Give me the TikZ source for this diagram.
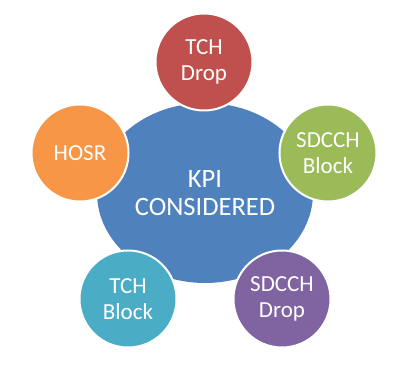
\documentclass[tikz,border=0pt]{standalone}
\usepackage{fontspec}
\setmainfont{Carlito}
\usetikzlibrary{shapes.geometric}
\definecolor{cblue}{HTML}{4F81BD}
\definecolor{cred}{HTML}{C0504D}
\definecolor{cgreen}{HTML}{9BBB59}
\definecolor{cpurple}{HTML}{8064A2}
\definecolor{caqua}{HTML}{4BACC6}
\definecolor{corange}{HTML}{F79646}
\tikzset{
  hub/.style={ellipse, fill=cblue, minimum width=216pt, minimum height=180pt, inner sep=0pt,
    text=white, align=center, font=\fontsize{26.5}{28}\selectfont},
  kpi/.style={circle, draw=white, line width=2pt, minimum size=97pt, inner sep=0pt,
    text=white, align=center, font=\fontsize{23}{26}\selectfont}
}
\begin{document}
\begin{tikzpicture}[x=1pt,y=1pt]
\useasboundingbox (0,0) rectangle (416,369);
\node[hub] (c) at (205,176) {KPI\\CONSIDERED};
\node[kpi, fill=cred] (td) at (204,307) {TCH\\Drop};
\node[kpi, fill=cgreen] (sb) at (328,216) {SDCCH\\Block};
\node[kpi, fill=cpurple] (sd) at (282,70) {SDCCH\\Drop};
\node[kpi, fill=caqua] (tb) at (128,70) {TCH\\Block};
\node[kpi, fill=corange] (ho) at (80,216) {HOSR};
\end{tikzpicture}
\end{document}
